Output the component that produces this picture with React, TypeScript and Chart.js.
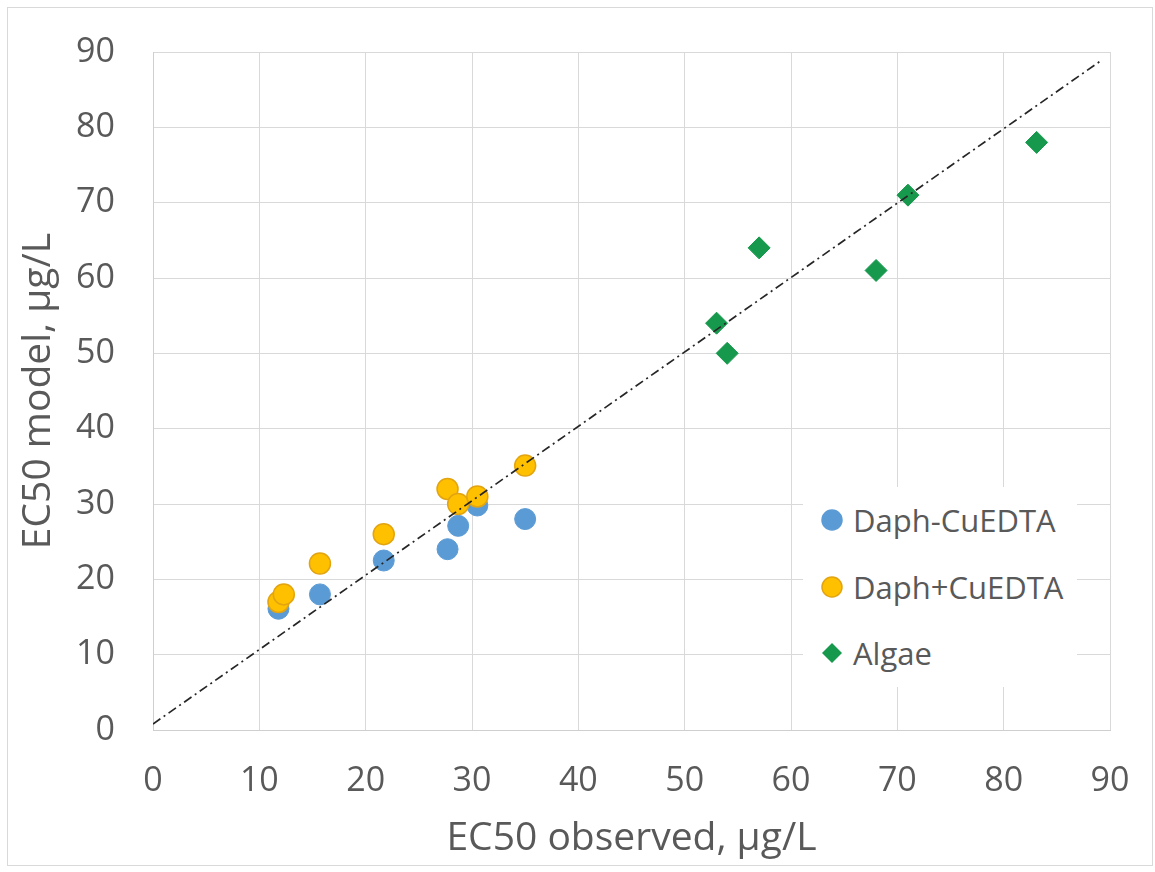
import React, { useEffect, useRef } from "react";
import { Chart, registerables } from "chart.js";

Chart.register(...registerables);

// Observed vs modelled EC50 values (µg/L)
const daphMinusObserved = [11.8, 15.7, 21.7, 27.7, 28.7, 30.5, 35.0];
const daphMinusModel = [16.1, 18.0, 22.5, 24.0, 27.1, 29.8, 28.0];

const daphPlusObserved = [11.8, 12.3, 15.7, 21.7, 27.7, 28.7, 30.5, 35.0];
const daphPlusModel = [17.0, 18.0, 22.1, 26.0, 32.0, 30.0, 31.0, 35.1];

const algaeObserved = [53.0, 54.0, 57.0, 68.0, 71.0, 83.1];
const algaeModel = [54.0, 50.0, 64.0, 61.0, 71.0, 78.0];

// 1:1 reference line end points
const refLineX = [0, 89];
const refLineY = [0.8, 88.7];

const axisTicks = [0, 10, 20, 30, 40, 50, 60, 70, 80, 90];

const seriesNames = ["Daph-CuEDTA", "Daph+CuEDTA", "Algae"];

const BLUE = "#5b9bd5";
const ORANGE = "#ffc000";
const ORANGE_EDGE = "#e2a410";
const GREEN = "#16994c";
const TEXT = "#595959";
const GRID = "#d9d9d9";
const FONT = "'Open Sans', 'Noto Sans', sans-serif";

const pairs = (xs: number[], ys: number[]) => xs.map((x, i) => ({ x, y: ys[i] }));

export default function App() {
  const canvasRef = useRef<HTMLCanvasElement | null>(null);

  useEffect(() => {
    const canvas = canvasRef.current;
    if (!canvas) return;
    const chart = new Chart(canvas, {
      type: "scatter",
      data: {
        datasets: [
          {
            label: "1:1",
            data: pairs(refLineX, refLineY),
            showLine: true,
            pointRadius: 0,
            borderColor: "#262626",
            borderWidth: 1.7,
            borderDash: [9, 4, 2, 4],
            order: 0,
          },
          {
            label: seriesNames[0],
            data: pairs(daphMinusObserved, daphMinusModel),
            pointRadius: 10.5,
            pointStyle: "circle",
            backgroundColor: BLUE,
            borderColor: BLUE,
            borderWidth: 1,
            order: 3,
          },
          {
            label: seriesNames[1],
            data: pairs(daphPlusObserved, daphPlusModel),
            pointRadius: 10.5,
            pointStyle: "circle",
            backgroundColor: ORANGE,
            borderColor: ORANGE_EDGE,
            borderWidth: 1.5,
            order: 2,
          },
          {
            label: seriesNames[2],
            data: pairs(algaeObserved, algaeModel),
            pointRadius: 11,
            pointStyle: "rectRot",
            backgroundColor: GREEN,
            borderColor: GREEN,
            borderWidth: 1,
            order: 1,
          },
        ],
      },
      options: {
        animation: false,
        responsive: false,
        maintainAspectRatio: false,
        layout: { padding: { left: 0, top: 52, right: 45, bottom: 0 } },
        plugins: {
          legend: { display: false },
          tooltip: { enabled: false },
        },
        scales: {
          x: {
            type: "linear",
            min: 0,
            max: 90,
            afterBuildTicks: (axis: any) => {
              axis.ticks = axisTicks.map((v) => ({ value: v }));
            },
            afterFit: (axis: any) => {
              axis.height = 142;
              axis.paddingLeft = 0;
              axis.paddingRight = 0;
            },
            grid: { color: GRID, lineWidth: 1, drawTicks: false },
            border: { display: true, color: "#cfcfcf", width: 1 },
            ticks: {
              padding: 31,
              color: TEXT,
              font: { family: FONT, size: 34 },
            },
            title: {
              display: true,
              text: "EC50 observed, µg/L",
              color: TEXT,
              font: { family: FONT, size: 39 },
              padding: { top: 0, bottom: 10 },
            },
          },
          y: {
            type: "linear",
            min: 0,
            max: 90,
            afterBuildTicks: (axis: any) => {
              axis.ticks = axisTicks.map((v) => ({ value: v }));
            },
            afterFit: (axis: any) => {
              axis.width = 153;
              axis.paddingTop = 0;
              axis.paddingBottom = 0;
            },
            grid: { color: GRID, lineWidth: 1, drawTicks: false },
            border: { display: true, color: "#cfcfcf", width: 1 },
            ticks: {
              padding: 38,
              color: TEXT,
              font: { family: FONT, size: 34 },
            },
            title: {
              display: true,
              text: "EC50 model, µg/L",
              color: TEXT,
              font: { family: FONT, size: 39 },
              padding: { top: 15, bottom: 0 },
            },
          },
        },
      },
    });
    return () => chart.destroy();
  }, []);

  const legendRows = [
    { name: seriesNames[0], kind: "circle", fill: BLUE, edge: BLUE, cy: 520 },
    { name: seriesNames[1], kind: "circle", fill: ORANGE, edge: ORANGE_EDGE, cy: 587 },
    { name: seriesNames[2], kind: "diamond", fill: GREEN, edge: GREEN, cy: 653 },
  ];

  return (
    <div
      style={{
        position: "absolute",
        left: 0,
        top: 0,
        width: 1155,
        height: 872,
        background: "#ffffff",
        overflow: "hidden",
      }}
    >
      <canvas ref={canvasRef} width={1155} height={872} style={{ display: "block" }} />
      <div
        style={{
          position: "absolute",
          left: 7,
          top: 7,
          width: 1146,
          height: 859,
          boxSizing: "border-box",
          border: "1px solid #d9d9d9",
          pointerEvents: "none",
        }}
      />
      <div
        style={{
          position: "absolute",
          left: 803,
          top: 487,
          width: 274,
          height: 200,
          background: "#ffffff",
        }}
      />
      {legendRows.map((row) => (
        <div key={row.name}>
          <svg
            width={24}
            height={24}
            style={{ position: "absolute", left: 832 - 12, top: row.cy - 12 }}
          >
            {row.kind === "circle" ? (
              <circle cx={12} cy={12} r={10} fill={row.fill} stroke={row.edge} strokeWidth={1.5} />
            ) : (
              <polygon points="12,2 22,12 12,22 2,12" fill={row.fill} />
            )}
          </svg>
          <div
            style={{
              position: "absolute",
              left: 853,
              top: row.cy - 22,
              height: 44,
              lineHeight: "44px",
              fontFamily: FONT,
              fontSize: 31,
              color: TEXT,
              whiteSpace: "nowrap",
            }}
          >
            {row.name}
          </div>
        </div>
      ))}
    </div>
  );
}
